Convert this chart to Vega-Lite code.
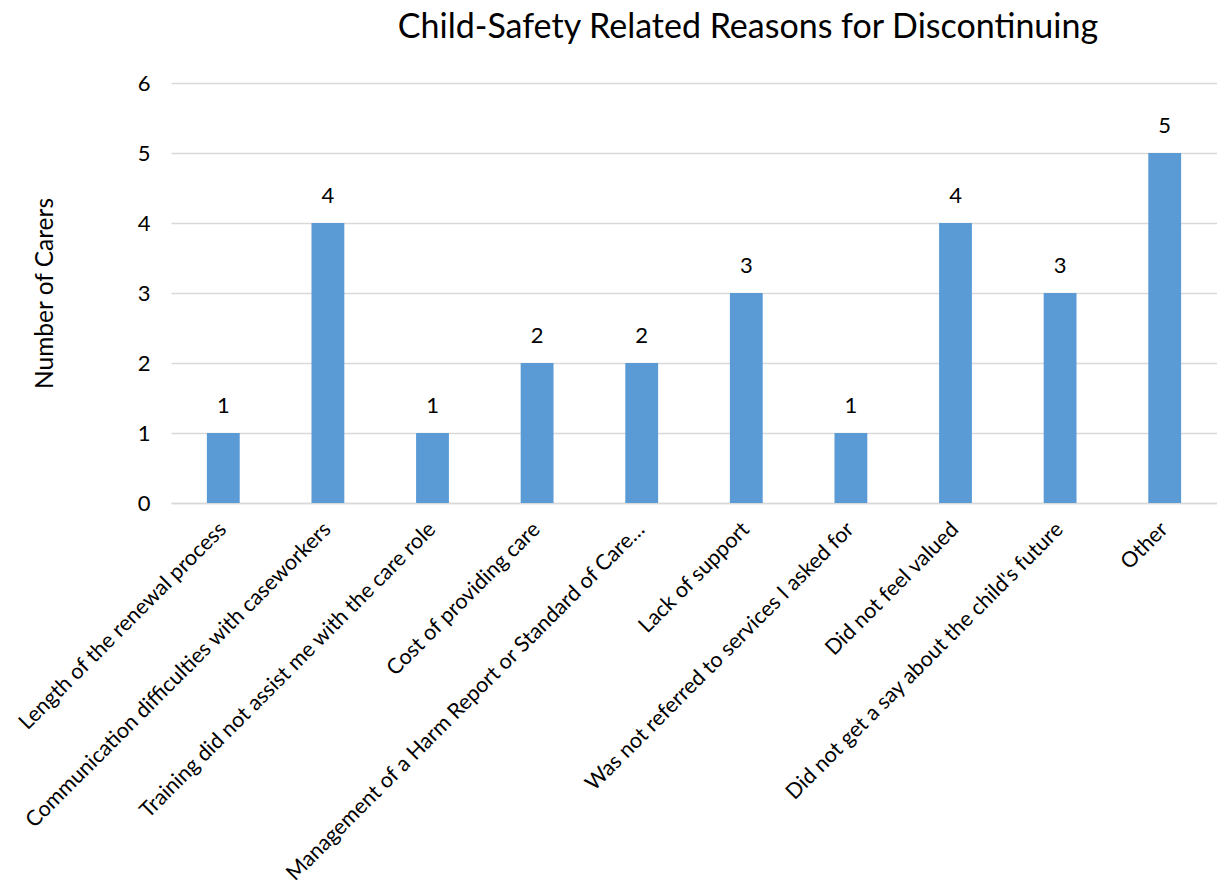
{
  "$schema": "https://vega.github.io/schema/vega-lite/v6.json",
  "autosize": "none",
  "width": 1046,
  "height": 420,
  "padding": {"left": 171, "top": 83, "right": 0, "bottom": 388},
  "background": "white",
  "title": {
    "text": "Child-Safety Related Reasons for Discontinuing",
    "font": "Lato",
    "fontSize": 34,
    "fontWeight": "normal",
    "color": "#000000",
    "anchor": "middle",
    "dx": 54,
    "offset": 0,
    "baseline": "alphabetic"
  },
  "data": {
    "values": [
      {"reason": "Length of the renewal process", "carers": 1},
      {"reason": "Communication difficulties with caseworkers", "carers": 4},
      {"reason": "Training did not assist me with the care role", "carers": 1},
      {"reason": "Cost of providing care", "carers": 2},
      {"reason": "Management of a Harm Report or Standard of Care…", "carers": 2},
      {"reason": "Lack of support", "carers": 3},
      {"reason": "Was not referred to services I asked for", "carers": 1},
      {"reason": "Did not feel valued", "carers": 4},
      {"reason": "Did not get a say about the child's future", "carers": 3},
      {"reason": "Other", "carers": 5}
    ]
  },
  "encoding": {
    "x": {
      "field": "reason",
      "type": "nominal",
      "sort": null,
      "scale": {"paddingInner": 0.686, "paddingOuter": 0.343},
      "axis": {
        "title": null,
        "labelAngle": -45,
        "labelAlign": "right",
        "labelBaseline": "middle",
        "labelFont": "Lato",
        "labelFontSize": 21.5,
        "labelColor": "#000000",
        "labelPadding": 23,
        "labelLimit": 700,
        "ticks": false,
        "domain": true,
        "domainColor": "#D9D9D9",
        "domainWidth": 1.5,
        "grid": false
      }
    },
    "y": {
      "field": "carers",
      "type": "quantitative",
      "scale": {"domain": [0, 6], "nice": false},
      "axis": {
        "title": "Number of Carers",
        "titleFont": "Lato",
        "titleFontSize": 24.5,
        "titleFontWeight": "normal",
        "titleColor": "#000000",
        "titlePadding": 80,
        "values": [0, 1, 2, 3, 4, 5, 6],
        "labelFont": "Lato",
        "labelFontSize": 22,
        "labelColor": "#000000",
        "labelPadding": 21,
        "ticks": false,
        "domain": false,
        "grid": true,
        "gridColor": "#D9D9D9",
        "gridWidth": 1.5
      }
    }
  },
  "layer": [
    {"mark": {"type": "bar", "color": "#5B9BD5"}},
    {
      "mark": {"type": "text", "font": "Lato", "fontSize": 22, "color": "#000000", "baseline": "alphabetic", "dy": -20},
      "encoding": {"text": {"field": "carers", "type": "quantitative"}}
    }
  ],
  "config": {"view": {"stroke": null}}
}
